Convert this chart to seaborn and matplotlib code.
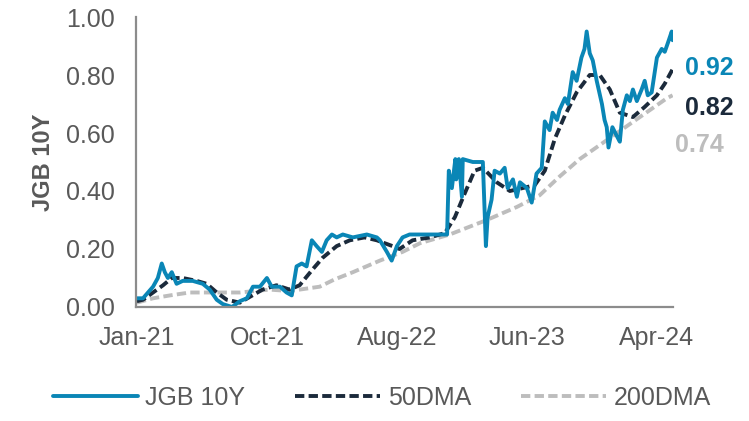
import pandas as pd
import matplotlib
matplotlib.use("Agg")
import matplotlib.pyplot as plt
import seaborn as sns

# JGB 10Y yield
jgb_dates = [
    "2021-01-04", "2021-01-18", "2021-02-10", "2021-02-21", "2021-03-02", "2021-03-09",
    "2021-03-16", "2021-03-25", "2021-04-05", "2021-04-19", "2021-05-12", "2021-06-04",
    "2021-06-20", "2021-07-06", "2021-07-20", "2021-08-10", "2021-08-28", "2021-09-13",
    "2021-09-27", "2021-10-13", "2021-10-29", "2021-11-09", "2021-11-28", "2021-12-13",
    "2021-12-25", "2022-01-05", "2022-01-17", "2022-01-28", "2022-02-09", "2022-02-20",
    "2022-03-04", "2022-03-15", "2022-03-27", "2022-04-07", "2022-04-21", "2022-05-14",
    "2022-06-15", "2022-07-08", "2022-07-15", "2022-07-31", "2022-08-11", "2022-08-23",
    "2022-09-05", "2022-09-21", "2022-10-15", "2022-11-07", "2022-11-30", "2022-12-16",
    "2022-12-20", "2022-12-27", "2023-01-04", "2023-01-06", "2023-01-12", "2023-01-19",
    "2023-01-21", "2023-02-13", "2023-03-08", "2023-03-15", "2023-03-19", "2023-03-28",
    "2023-04-04", "2023-04-16", "2023-04-27", "2023-05-04", "2023-05-16", "2023-05-25",
    "2023-06-01", "2023-06-17", "2023-06-28", "2023-07-09", "2023-07-21", "2023-07-28",
    "2023-08-08", "2023-08-15", "2023-08-25", "2023-08-31", "2023-09-12", "2023-09-19",
    "2023-09-30", "2023-10-09", "2023-10-20", "2023-10-27", "2023-11-01", "2023-11-08",
    "2023-11-15", "2023-11-24", "2023-12-06", "2023-12-12", "2023-12-17", "2023-12-21",
    "2023-12-30", "2024-01-09", "2024-01-16", "2024-01-23", "2024-02-01", "2024-02-08",
    "2024-02-15", "2024-02-24", "2024-03-06", "2024-03-13", "2024-03-20", "2024-03-29",
    "2024-04-10", "2024-04-21", "2024-04-28", "2024-05-05", "2024-05-14", "2024-05-16",
]
jgb_values = [
    0.03, 0.03, 0.07, 0.10, 0.15, 0.12,
    0.10, 0.12, 0.08, 0.09, 0.09, 0.08,
    0.06, 0.025, 0.01, 0.00, 0.02, 0.03,
    0.07, 0.07, 0.10, 0.07, 0.07, 0.05,
    0.04, 0.14, 0.15, 0.14, 0.23, 0.21,
    0.19, 0.23, 0.25, 0.24, 0.25, 0.24,
    0.25, 0.24, 0.23, 0.19, 0.16, 0.21,
    0.24, 0.25, 0.25, 0.25, 0.25, 0.25,
    0.47, 0.41, 0.51, 0.44, 0.51, 0.38,
    0.51, 0.50, 0.50, 0.21, 0.31, 0.37,
    0.47, 0.46, 0.48, 0.41, 0.44, 0.38,
    0.43, 0.41, 0.36, 0.46, 0.48, 0.64,
    0.61, 0.67, 0.645, 0.68, 0.72, 0.70,
    0.81, 0.78, 0.86, 0.89, 0.95, 0.875,
    0.85, 0.78, 0.70, 0.645, 0.62, 0.55,
    0.62, 0.59, 0.57, 0.68, 0.73, 0.71,
    0.75, 0.71, 0.75, 0.78, 0.73, 0.74,
    0.86, 0.89, 0.88, 0.91, 0.95, 0.92,
]

dma50_dates = [
    "2021-01-04", "2021-01-18", "2021-02-10", "2021-03-05", "2021-03-25", "2021-04-19",
    "2021-05-21", "2021-06-13", "2021-07-06", "2021-07-29", "2021-08-28", "2021-09-20",
    "2021-10-19", "2021-11-20", "2021-12-20", "2022-01-12", "2022-02-11", "2022-03-06",
    "2022-04-07", "2022-05-07", "2022-06-10", "2022-07-08", "2022-08-13", "2022-08-29",
    "2022-09-28", "2022-11-07", "2022-12-11", "2023-01-03", "2023-01-25", "2023-02-17",
    "2023-03-08", "2023-04-09", "2023-05-09", "2023-06-07", "2023-07-05", "2023-07-28",
    "2023-08-20", "2023-09-12", "2023-10-09", "2023-11-08", "2023-12-01", "2023-12-24",
    "2024-01-16", "2024-02-15", "2024-03-13", "2024-04-10", "2024-04-28", "2024-05-16",
]
dma50_values = [
    0.02, 0.025, 0.05, 0.075, 0.10, 0.10,
    0.09, 0.08, 0.05, 0.025, 0.015, 0.035,
    0.06, 0.075, 0.06, 0.075, 0.13, 0.17,
    0.21, 0.23, 0.24, 0.23, 0.21, 0.20,
    0.23, 0.24, 0.255, 0.31, 0.39, 0.47,
    0.48, 0.43, 0.40, 0.41, 0.42, 0.47,
    0.58, 0.66, 0.74, 0.80, 0.80, 0.75,
    0.67, 0.655, 0.69, 0.73, 0.77, 0.82,
]

dma200_dates = [
    "2021-01-04", "2021-02-10", "2021-03-21", "2021-05-05", "2021-06-20", "2021-08-28",
    "2021-11-04", "2021-12-20", "2022-02-27", "2022-04-02", "2022-05-14", "2022-07-15",
    "2022-09-05", "2022-10-15", "2022-12-22", "2023-03-17", "2023-05-25", "2023-07-16",
    "2023-08-31", "2023-10-16", "2023-12-31", "2024-03-02", "2024-05-03", "2024-05-16",
]
dma200_values = [
    0.015, 0.03, 0.04, 0.05, 0.05, 0.05,
    0.06, 0.055, 0.07, 0.095, 0.12, 0.16,
    0.19, 0.22, 0.25, 0.30, 0.345, 0.385,
    0.45, 0.51, 0.59, 0.655, 0.72, 0.73,
]

series_names = ["JGB 10Y", "50DMA", "200DMA"]
last_labels = ["0.92", "0.82", "0.74"]
tick_dates = ["2021-01-04", "2021-10-29", "2022-08-23", "2023-06-17", "2024-04-10"]
tick_labels = ["Jan-21", "Oct-21", "Aug-22", "Jun-23", "Apr-24"]
y_ticks = [0.0, 0.2, 0.4, 0.6, 0.8, 1.0]

BLUE = "#0a86b6"
NAVY = "#1b2a3b"
GREY = "#bdbdbd"
TEXT = "#595959"
AXIS = "#8c8c8c"

sns.set_style("white")
plt.rcParams["font.family"] = ["Liberation Sans", "DejaVu Sans"]

jgb = pd.DataFrame({"date": pd.to_datetime(jgb_dates), "value": jgb_values})
dma50 = pd.DataFrame({"date": pd.to_datetime(dma50_dates), "value": dma50_values})
dma200 = pd.DataFrame({"date": pd.to_datetime(dma200_dates), "value": dma200_values})

fig = plt.figure(figsize=(7.49, 4.21), dpi=100)
ax = fig.add_axes([0.1816, 0.2708, 0.717, 0.6888])

lw = 2.8
sns.lineplot(data=dma200, x="date", y="value", ax=ax, color=GREY, linewidth=lw,
             label=series_names[2])
sns.lineplot(data=dma50, x="date", y="value", ax=ax, color=NAVY, linewidth=lw,
             label=series_names[1])
sns.lineplot(data=jgb, x="date", y="value", ax=ax, color=BLUE, linewidth=lw,
             label=series_names[0])
ax.lines[0].set_dashes((2.4, 1.1))
ax.lines[1].set_dashes((2.4, 1.1))

ax.set_xlim(pd.Timestamp("2021-01-02"), pd.Timestamp("2024-05-17"))
ax.set_ylim(0, 1.0)
ax.set_yticks(y_ticks)
ax.set_yticklabels([f"{v:.2f}" for v in y_ticks])
ax.set_xticks(pd.to_datetime(tick_dates))
ax.set_xticklabels(tick_labels)
ax.set_xlabel("")
ax.set_ylabel("JGB 10Y", fontsize=17, fontweight="bold", color=TEXT, labelpad=8)

for side in ["top", "right"]:
    ax.spines[side].set_visible(False)
for side in ["left", "bottom"]:
    ax.spines[side].set_color(AXIS)
    ax.spines[side].set_linewidth(1.6)
ax.tick_params(axis="both", direction="out", length=7, width=1.6, color=AXIS,
               labelsize=18, labelcolor=TEXT)
ax.tick_params(axis="y", pad=8)
ax.tick_params(axis="x", pad=7)

# end-of-series labels
label_y = [0.824, 0.686, 0.559]
label_x = [1.022, 1.022, 1.004]
label_colors = [BLUE, NAVY, GREY]
for txt, yv, xv, c in zip(last_labels, label_y, label_x, label_colors):
    ax.text(xv, yv, txt, transform=ax.get_yaxis_transform(), color=c,
            fontsize=18, fontweight="bold", va="center", ha="left")

handles, labels = ax.get_legend_handles_labels()
order = [2, 1, 0]
ax.legend([handles[i] for i in order], [labels[i] for i in order],
          loc="center", bbox_to_anchor=(0.51, 0.055), bbox_transform=fig.transFigure,
          ncol=3, frameon=False, fontsize=18, handlelength=3.4, handletextpad=0.3,
          columnspacing=2.0, labelcolor=TEXT)

fig.savefig("out.png", dpi=100)
